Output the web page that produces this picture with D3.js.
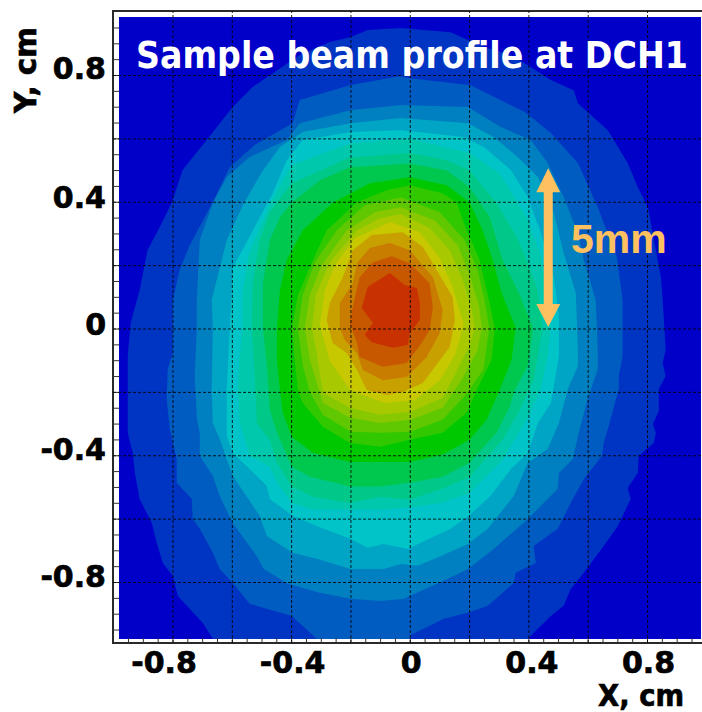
<!DOCTYPE html>
<html>
<head>
<meta charset="utf-8">
<script src="https://cdn.jsdelivr.net/npm/d3@7"></script>
<style>
html, body { margin: 0; padding: 0; background: #fff; }
svg { display: block; }
text { font-family: "DejaVu Sans", sans-serif; font-weight: bold; }
</style>
</head>
<body>
<svg id="chart" width="702" height="712"></svg>
<script>
// beam profile iso-contours, [x, y] in cm, outermost first
const contour1 = [[-.199,.920],[-.142,.942],[-.030,.948],[.138,.935],[.250,.888],[.341,.863],[.408,.825],[.476,.784],[.553,.752],[.567,.711],[.668,.626],[.735,.522],[.769,.446],[.803,.383],[.847,.162],[.853,.090],[.863,-.068],[.853,-.109],[.863,-.150],[.840,-.191],[.840,-.260],[.820,-.301],[.830,-.330],[.823,-.361],[.772,-.402],[.769,-.456],[.735,-.503],[.745,-.538],[.702,-.623],[.654,-.686],[.587,-.771],[.543,-.822],[.519,-.875],[.476,-.907],[.398,-.979],[.398,-1.1],[-.664,-1.1],[-.664,-.979],[-.698,-.929],[-.782,-.844],[-.799,-.781],[-.833,-.740],[-.853,-.677],[-.870,-.614],[-.911,-.538],[-.927,-.456],[-.934,-.393],[-.951,-.330],[-.951,-.191],[-.951,-.087],[-.941,.017],[-.911,.121],[-.884,.248],[-.843,.320],[-.803,.396],[-.766,.500],[-.685,.595],[-.597,.699],[-.530,.762],[-.371,.863],[-.270,.904]];
const contour2 = [[-.034,.796],[0,.790],[.206,.768],[.388,.683],[.476,.617],[.567,.522],[.634,.383],[.698,.226],[.718,.090],[.718,-.087],[.705,-.150],[.705,-.191],[.668,-.317],[.654,-.361],[.648,-.402],[.587,-.475],[.543,-.550],[.499,-.632],[.418,-.686],[.425,-.740],[.357,-.771],[.351,-.803],[.263,-.875],[.196,-.897],[.115,-.916],[.003,-.967],[-.017,-1.1],[-.314,-1.1],[-.314,-.979],[-.398,-.907],[-.540,-.869],[-.597,-.803],[-.641,-.759],[-.664,-.708],[-.708,-.632],[-.732,-.601],[-.735,-.538],[-.786,-.487],[-.786,-.412],[-.809,-.317],[-.820,-.222],[-.816,-.128],[-.799,-.078],[-.799,.090],[-.776,.185],[-.742,.263],[-.664,.399],[-.607,.509],[-.523,.579],[-.395,.648],[-.371,.721],[-.202,.768]];
const contour3 = [[-.199,.689],[-.030,.705],[.196,.699],[.307,.636],[.408,.595],[.465,.522],[.519,.415],[.567,.301],[.587,.216],[.627,.090],[.634,-.068],[.634,-.128],[.600,-.222],[.567,-.339],[.550,-.412],[.503,-.456],[.499,-.506],[.398,-.601],[.283,-.696],[.196,-.759],[.128,-.790],[-.020,-.853],[-.098,-.860],[-.199,-.853],[-.304,-.834],[-.415,-.803],[-.492,-.759],[-.516,-.718],[-.597,-.614],[-.641,-.528],[-.664,-.465],[-.708,-.402],[-.708,-.330],[-.718,-.285],[-.725,-.150],[-.718,.002],[-.718,.090],[-.708,.279],[-.664,.396],[-.617,.478],[-.540,.541],[-.415,.595],[-.371,.648]];
const contour4 = [[-.199,.648],[-.030,.664],[.196,.648],[.283,.604],[.364,.541],[.432,.478],[.486,.364],[.519,.238],[.560,.112],[.567,-.068],[.567,-.118],[.533,-.191],[.503,-.298],[.465,-.380],[.398,-.424],[.351,-.528],[.263,-.632],[.196,-.680],[.105,-.718],[.027,-.749],[-.030,-.743],[-.088,-.759],[-.199,-.759],[-.314,-.727],[-.395,-.708],[-.482,-.655],[-.506,-.591],[-.597,-.465],[-.641,-.349],[-.664,-.298],[-.668,-.191],[-.664,.002],[-.668,.090],[-.617,.279],[-.563,.389],[-.499,.493],[-.438,.573],[-.361,.620]];
const contour5 = [[-.199,.620],[-.030,.626],[.182,.604],[.250,.573],[.341,.500],[.398,.415],[.442,.301],[.486,.162],[.503,.036],[.503,-.087],[.476,-.235],[.432,-.298],[.398,-.393],[.341,-.443],[.273,-.528],[.199,-.591],[.138,-.632],[.071,-.661],[-.007,-.696],[-.088,-.680],[-.142,-.692],[-.199,-.664],[-.314,-.623],[-.395,-.591],[-.472,-.538],[-.482,-.497],[-.540,-.443],[-.597,-.393],[-.617,-.339],[-.617,-.191],[-.607,.002],[-.597,.194],[-.563,.249],[-.516,.333],[-.462,.427],[-.415,.531],[-.361,.595]];
const contour6 = [[0,.600],[.202,.553],[.303,.490],[.394,.351],[.441,.232],[.462,.121],[.475,.005],[.465,-.087],[.441,-.191],[.394,-.288],[.313,-.414],[.202,-.518],[.111,-.550],[0,-.565],[-.101,-.572],[-.202,-.572],[-.327,-.572],[-.398,-.550],[-.448,-.486],[-.472,-.436],[-.539,-.402],[-.573,-.298],[-.580,-.191],[-.573,-.087],[-.563,.002],[-.563,.121],[-.543,.232],[-.512,.304],[-.465,.405],[-.398,.516],[-.202,.584]];
const contour7 = [[0,.553],[.125,.531],[.202,.499],[.293,.395],[.361,.288],[.394,.216],[.431,.121],[.448,.002],[.418,-.159],[.371,-.257],[.313,-.351],[.202,-.468],[.101,-.509],[0,-.540],[-.101,-.531],[-.202,-.550],[-.327,-.531],[-.398,-.499],[-.448,-.424],[-.472,-.351],[-.516,-.298],[-.522,-.150],[-.532,.002],[-.529,.143],[-.506,.279],[-.472,.367],[-.398,.458],[-.202,.540]];
const contour8 = [[0,.521],[.125,.499],[.202,.446],[.270,.351],[.313,.216],[.371,.106],[.415,.002],[.398,-.118],[.354,-.194],[.337,-.247],[.293,-.329],[.202,-.424],[.111,-.468],[0,-.487],[-.101,-.499],[-.202,-.499],[-.337,-.468],[-.398,-.436],[-.448,-.329],[-.472,-.257],[-.482,-.118],[-.495,.002],[-.495,.143],[-.472,.279],[-.438,.351],[-.398,.398],[-.303,.468],[-.202,.509]];
const contour9 = [[0,.477],[.125,.452],[.202,.398],[.246,.310],[.280,.216],[.310,.112],[.357,.002],[.344,-.099],[.303,-.194],[.259,-.288],[.202,-.351],[.111,-.398],[0,-.421],[-.202,-.421],[-.327,-.392],[-.398,-.342],[-.428,-.266],[-.438,-.194],[-.448,-.099],[-.448,.002],[-.438,.121],[-.415,.216],[-.361,.310],[-.259,.398],[-.135,.458]];
const contour10 = [[0,.452],[.111,.427],[.158,.398],[.192,.310],[.236,.216],[.263,.106],[.287,.002],[.276,-.099],[.226,-.194],[.192,-.266],[.111,-.329],[0,-.351],[-.101,-.373],[-.202,-.361],[-.293,-.310],[-.361,-.235],[-.377,-.194],[-.388,-.099],[-.398,.002],[-.377,.106],[-.327,.216],[-.280,.310],[-.179,.398],[-.078,.436]];
const contour11 = [[-.030,.414],[.101,.367],[.185,.279],[.229,.184],[.252,.090],[.268,.002],[.249,-.128],[.195,-.203],[.111,-.288],[.003,-.326],[-.101,-.329],[-.199,-.326],[-.293,-.272],[-.337,-.200],[-.361,-.115],[-.377,.002],[-.361,.106],[-.320,.209],[-.246,.310],[-.152,.389]];
const contour12 = [[-.030,.383],[.084,.342],[.162,.263],[.202,.169],[.233,.074],[.243,.002],[.229,-.068],[.175,-.162],[.111,-.250],[.003,-.288],[-.101,-.298],[-.202,-.282],[-.293,-.235],[-.337,-.099],[-.354,.002],[-.337,.106],[-.297,.200],[-.212,.310],[-.118,.367]];
const contour13 = [[-.030,.361],[.067,.317],[.135,.247],[.179,.153],[.209,.058],[.219,.002],[.202,-.052],[.152,-.147],[.111,-.219],[.003,-.263],[-.101,-.272],[-.202,-.250],[-.293,-.203],[-.313,-.083],[-.330,.002],[-.317,.106],[-.270,.209],[-.179,.310],[-.101,.348]];
const contour14 = [[-.067,.336],[.034,.304],[.101,.222],[.145,.131],[.182,.011],[.152,-.084],[.101,-.163],[.017,-.226],[-.084,-.235],[-.202,-.194],[-.270,-.100],[-.303,.011],[-.286,.121],[-.253,.200],[-.185,.285]];
const contour15 = [[-.024,.304],[-.128,.295],[-.192,.247],[-.226,.162],[-.270,.080],[-.280,.027],[-.260,-.046],[-.212,-.078],[-.178,-.131],[-.145,-.194],[-.078,-.210],[-.024,-.200],[.044,-.172],[.135,-.058],[.152,.027],[.145,.099],[.091,.184],[.044,.258]];
const contour16 = [[-.067,.270],[-.135,.254],[-.178,.206],[-.192,.143],[-.236,.080],[-.236,.002],[-.219,-.036],[-.178,-.078],[-.158,-.131],[-.091,-.163],[-.010,-.153],[.057,-.090],[.101,-.014],[.111,.058],[.078,.162],[0,.247]];
const contour17 = [[-.061,.228],[-.124,.209],[-.169,.162],[-.192,.068],[-.202,.017],[-.178,-.046],[-.169,-.090],[-.091,-.121],[-.010,-.109],[.040,-.046],[.067,-.005],[.078,.068],[.067,.143],[0,.206]];
const contour18 = [[-.067,.175],[-.142,.131],[-.162,.065],[-.124,.017],[-.152,-.020],[-.128,-.043],[-.057,-.061],[-.007,-.052],[0,-.014],[.034,.027],[.034,.080],[.024,.128],[-.017,.137]];

const contours = [contour1, contour2, contour3, contour4, contour5, contour6, contour7, contour8, contour9,
    contour10, contour11, contour12, contour13, contour14, contour15, contour16, contour17, contour18];
const bandColors = ["#0034c4", "#005cc0", "#0080c0", "#00a4c4", "#00c4c8", "#00c8ac", "#00c888", "#00c850", "#00c800",
    "#30c800", "#60c800", "#88c800", "#a8c800", "#c8c800", "#c8a000", "#c87c00", "#c85800", "#c83000"];

const labelTicks = [-0.8, -0.4, 0, 0.4, 0.8];
const gridTicks = [-0.8, -0.6, -0.4, -0.2, 0, 0.2, 0.4, 0.6, 0.8];
const minorTicks = d3.range(-19, 20).map(d => d / 20);

const arrowX = 0.467, arrowTop = 0.506, arrowBottom = 0.005;

const BG_COR = "#0000c8", ANNOT_COR = "#ffc060";
const FRAME = { left: 113, top: 11, bottom: 643 };
const PLOT = { left: 119, top: 17, right: 701, bottom: 639 };

const x = d3.scaleLinear().domain([-0.8, 0.8]).range([172.5, 647]);
const y = d3.scaleLinear().domain([-0.8, 0.8]).range([582, 75]);

const svg = d3.select("#chart");
const defs = svg.append("defs");
defs.append("clipPath").attr("id", "plot-clip")
    .append("rect")
    .attr("x", PLOT.left).attr("y", PLOT.top)
    .attr("width", PLOT.right - PLOT.left).attr("height", PLOT.bottom - PLOT.top);
defs.append("filter").attr("id", "soft")
    .append("feGaussianBlur").attr("stdDeviation", 0.6);

// frame
svg.append("path")
    .attr("d", `M702,${FRAME.top}H${FRAME.left}V${FRAME.bottom}H702`)
    .attr("fill", "none")
    .attr("stroke", "#2a2a2a")
    .attr("stroke-width", 2);

// filled bands
const g = svg.append("g").attr("clip-path", "url(#plot-clip)");
g.append("rect")
    .attr("x", PLOT.left).attr("y", PLOT.top)
    .attr("width", PLOT.right - PLOT.left).attr("height", PLOT.bottom - PLOT.top)
    .attr("fill", BG_COR);

const band_line = d3.line().x(d => x(d[0])).y(d => y(d[1])).curve(d3.curveLinearClosed);

g.append("g").attr("filter", "url(#soft)")
    .selectAll("path.band")
    .data(contours)
    .join("path")
    .attr("class", "band")
    .attr("d", band_line)
    .attr("fill", (d, i) => bandColors[i]);

// minor ticks in the white strip
const left_minor = svg.append("g")
    .attr("transform", `translate(${FRAME.left},0)`)
    .call(d3.axisLeft(y).tickValues(minorTicks).tickSize(-6).tickFormat(""));
const bottom_minor = svg.append("g")
    .attr("transform", `translate(0,${FRAME.bottom})`)
    .call(d3.axisBottom(x).tickValues(minorTicks).tickSize(-5).tickFormat(""));
for (const a of [left_minor, bottom_minor]) {
    a.select(".domain").remove();
    a.selectAll("line").attr("stroke", "#333");
}

// dashed grid
const grid_v = svg.append("g")
    .attr("transform", `translate(0,${FRAME.bottom})`)
    .call(d3.axisBottom(x).tickValues(gridTicks).tickSize(FRAME.top - FRAME.bottom).tickFormat(""));
const grid_h = svg.append("g")
    .attr("transform", `translate(${FRAME.left},0)`)
    .call(d3.axisLeft(y).tickValues(gridTicks).tickSize(FRAME.left - 702).tickFormat(""));
for (const a of [grid_v, grid_h]) {
    a.select(".domain").remove();
    a.selectAll("line")
        .attr("stroke", "#000")
        .attr("stroke-opacity", 0.85)
        .attr("stroke-dasharray", "3 2");
}

// tick labels
const fmt = d => d === 0 ? "0" : String(d);
const left_axis = svg.append("g")
    .attr("transform", "translate(106,0)")
    .call(d3.axisLeft(y).tickValues(labelTicks).tickSize(0).tickPadding(0).tickFormat(fmt));
const bottom_axis = svg.append("g")
    .attr("transform", "translate(0,673)")
    .call(d3.axisBottom(x).tickValues(labelTicks).tickSize(0).tickPadding(0).tickFormat(fmt));
for (const a of [left_axis, bottom_axis]) {
    a.select(".domain").remove();
    a.selectAll("text")
        .attr("font-size", 30)
        .attr("font-family", "DejaVu Sans")
        .attr("font-weight", "bold")
        .attr("fill", "#000")
        .attr("stroke", "#000")
        .attr("stroke-width", 0.7);
}
// the labels are not quite centred on their ticks in the original
left_axis.selectAll("text").attr("dy", null).attr("x", 0).attr("text-anchor", "end")
    .attr("y", d => d === 0.8 ? 3 : d < 0 ? 4 : 6);
bottom_axis.selectAll("text").attr("dy", null).attr("y", 0)
    .attr("dx", d => d === -0.8 ? -9 : d === 0.4 ? 3 : 1);

// axis titles
svg.append("text").text("X, cm")
    .attr("x", 598).attr("y", 706)
    .attr("textLength", 86).attr("lengthAdjust", "spacingAndGlyphs")
    .attr("font-size", 30).attr("fill", "#000").attr("stroke", "#000").attr("stroke-width", 0.7);
svg.append("text").text("Y, cm")
    .attr("transform", "translate(36,113) rotate(-90)")
    .attr("textLength", 86).attr("lengthAdjust", "spacingAndGlyphs")
    .attr("font-size", 30).attr("fill", "#000").attr("stroke", "#000").attr("stroke-width", 0.7);

// title, stretched upward because the original face is narrower than DejaVu
svg.append("text").text("Sample beam profile at DCH1")
    .attr("transform", "translate(136,68) scale(1,1.11)")
    .attr("font-size", 33.3).attr("fill", "#fff");

// 5mm arrow
const ax = x(arrowX), arrow_top = y(arrowTop), arrow_bot = y(arrowBottom);
svg.append("path")
    .attr("d", `M${ax},${arrow_top}L${ax + 12},${arrow_top + 24}H${ax + 4.5}V${arrow_bot - 23}H${ax + 12}L${ax},${arrow_bot}L${ax - 12},${arrow_bot - 23}H${ax - 4.5}V${arrow_top + 24}H${ax - 12}Z`)
    .attr("fill", ANNOT_COR);
svg.append("text").text("5mm")
    .attr("x", 571).attr("y", 253)
    .style("font-family", "Liberation Sans")
    .attr("font-size", 41).attr("fill", ANNOT_COR);
</script>
</body>
</html>
